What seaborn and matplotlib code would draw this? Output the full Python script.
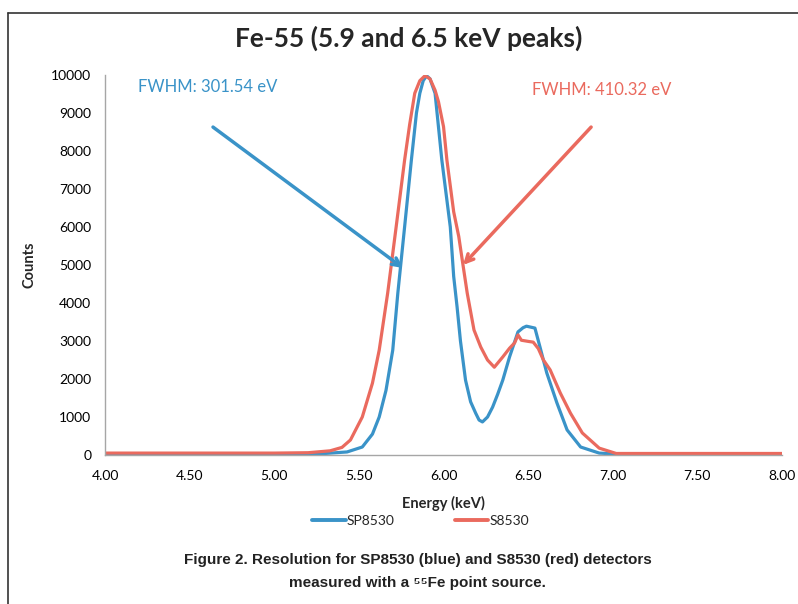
import matplotlib
matplotlib.use("Agg")
import matplotlib.pyplot as plt
import seaborn as sns
import pandas as pd
from matplotlib.lines import Line2D

# SP8530 (blue) spectrum
blue_kev = [4.00, 4.50, 5.00, 5.30, 5.43, 5.52, 5.58, 5.62, 5.66, 5.70,
            5.73, 5.77, 5.81, 5.84, 5.86, 5.88, 5.90, 5.92, 5.95, 5.99,
            6.04, 6.06, 6.08, 6.10, 6.13, 6.16, 6.19, 6.21, 6.23, 6.26,
            6.29, 6.32, 6.35, 6.39, 6.44, 6.47, 6.49, 6.52, 6.54, 6.57,
            6.61, 6.67, 6.73, 6.81, 6.92, 7.00, 7.50, 8.00]
blue_counts = [30, 30, 30, 40, 80, 210, 550, 1000, 1700, 2760,
               4260, 6000, 7760, 9000, 9520, 9850, 9980, 9900, 9520, 7760,
               6000, 4700, 3900, 3000, 1970, 1400, 1100, 920, 870, 1000,
               1260, 1600, 1970, 2580, 3240, 3350, 3390, 3360, 3340, 2840,
               2160, 1370, 660, 210, 50, 30, 30, 30]

# S8530 (red) spectrum
red_kev = [4.00, 4.50, 5.00, 5.20, 5.33, 5.40, 5.45, 5.52, 5.58, 5.62,
           5.67, 5.72, 5.77, 5.80, 5.83, 5.86, 5.89, 5.92, 5.95, 5.97,
           6.00, 6.02, 6.06, 6.09, 6.11, 6.14, 6.18, 6.22, 6.26, 6.30,
           6.35, 6.39, 6.42, 6.44, 6.46, 6.50, 6.53, 6.56, 6.59, 6.63,
           6.69, 6.75, 6.82, 6.92, 7.02, 7.50, 8.00]
red_counts = [50, 50, 50, 60, 110, 200, 395, 1000, 1890, 2760,
              4260, 6000, 7760, 8700, 9520, 9850, 9980, 9900, 9600, 9300,
              8640, 7760, 6400, 5750, 5150, 4260, 3290, 2840, 2500, 2310,
              2580, 2810, 2950, 3160, 3020, 2990, 2970, 2800, 2500, 2240,
              1630, 1100, 580, 180, 40, 40, 40]

series_names = ["SP8530", "S8530"]
fwhm_labels = ["FWHM: 301.54 eV", "FWHM: 410.32 eV"]
x_ticks = [4.0, 4.5, 5.0, 5.5, 6.0, 6.5, 7.0, 7.5, 8.0]
y_ticks = [0, 1000, 2000, 3000, 4000, 5000, 6000, 7000, 8000, 9000, 10000]

BLUE = "#3A93C8"
RED = "#EA6A5E"

df = pd.concat([
    pd.DataFrame({"Energy": blue_kev, "Counts": blue_counts, "Detector": series_names[0]}),
    pd.DataFrame({"Energy": red_kev, "Counts": red_counts, "Detector": series_names[1]}),
], ignore_index=True)

sns.set_theme(style="white")
plt.rcParams["font.family"] = ["Lato", "DejaVu Sans"]

fig = plt.figure(figsize=(7.98, 6.04), dpi=100)
ax = fig.add_axes([0.1316, 0.2467, 0.8484, 0.6291])

sns.lineplot(data=df, x="Energy", y="Counts", hue="Detector",
             palette={series_names[0]: BLUE, series_names[1]: RED},
             linewidth=2.3, ax=ax, legend=False)

ax.set_xlim(4.0, 8.0)
ax.set_ylim(0, 10000)
ax.set_xticks(x_ticks)
ax.set_xticklabels([f"{t:.2f}" for t in x_ticks])
ax.set_yticks(y_ticks)
ax.tick_params(axis="both", which="major", direction="out", length=4,
               width=1, color="#A6A6A6", labelsize=10, labelcolor="black")
ax.tick_params(axis="x", pad=7)
ax.tick_params(axis="y", pad=6)
for side in ["top", "right"]:
    ax.spines[side].set_visible(False)
for side in ["left", "bottom"]:
    ax.spines[side].set_color("#A6A6A6")
    ax.spines[side].set_linewidth(1)

ax.set_xlabel("Energy (keV)", fontsize=10.5, fontweight="bold")
ax.xaxis.set_label_coords(0.5, -0.108)
ax.set_ylabel("Counts", fontsize=10.5, fontweight="bold")
ax.yaxis.set_label_coords(-0.101, 0.5)

# FWHM annotations with arrows
ax.text(4.195, 9680, fwhm_labels[0], color=BLUE, fontsize=12, va="center", ha="left")
ax.text(6.52, 9600, fwhm_labels[1], color=RED, fontsize=12, va="center", ha="left")
ax.annotate("", xy=(5.761, 4920), xytext=(4.638, 8630),
            arrowprops=dict(arrowstyle="->", color=BLUE, lw=2.5,
                            mutation_scale=14, shrinkA=0, shrinkB=0))
ax.annotate("", xy=(6.115, 5000), xytext=(6.872, 8630),
            arrowprops=dict(arrowstyle="->", color=RED, lw=2.5,
                            mutation_scale=14, shrinkA=0, shrinkB=0))

fig.text(0.512, 0.936, "Fe-55 (5.9 and 6.5 keV peaks)", fontsize=19,
         fontweight="bold", ha="center", va="center")

handles = [Line2D([0], [0], color=BLUE, lw=2.8), Line2D([0], [0], color=RED, lw=2.8)]
fig.legend(handles, series_names, loc="center", bbox_to_anchor=(0.527, 0.138),
           ncol=2, frameon=False, fontsize=10, handlelength=2.4,
           handletextpad=0.1, columnspacing=4.3)

cap_font = ["Liberation Sans", "DejaVu Sans"]
fig.text(0.524, 0.073, "Figure 2. Resolution for SP8530 (blue) and S8530 (red) detectors",
         fontsize=11, fontweight="bold", ha="center", va="center",
         family=cap_font, color="#222222")
fig.text(0.523, 0.035, "measured with a \u2075\u2075Fe point source.",
         fontsize=11, fontweight="bold", ha="center", va="center",
         family=cap_font, color="#222222")

# outer chart frame (left and top edges visible in the reference)
fig.add_artist(Line2D([0.0104, 0.0104], [0.0, 0.979], color="#333333", lw=1.2,
                      transform=fig.transFigure))
fig.add_artist(Line2D([0.0104, 1.0], [0.979, 0.979], color="#333333", lw=1.2,
                      transform=fig.transFigure))

fig.savefig("out.png", dpi=100)
